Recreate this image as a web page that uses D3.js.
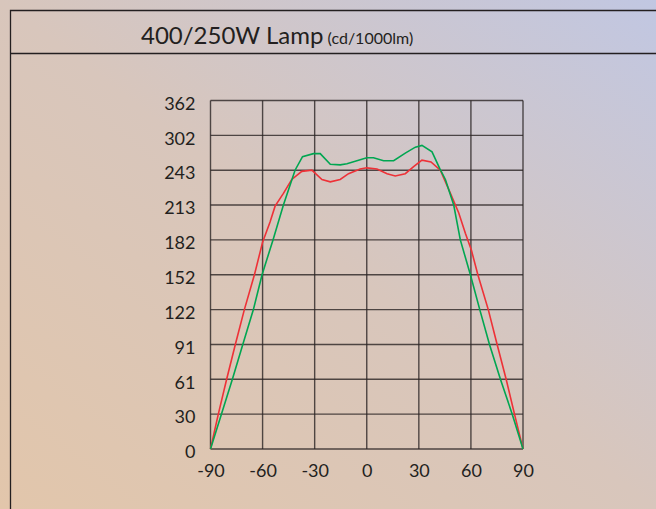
<!DOCTYPE html>
<html>
<head>
<meta charset="utf-8">
<script src="https://d3js.org/d3.v7.min.js"></script>
<style>
body { margin: 0; }
svg { display: block; }
text { font-family: Lato, "Open Sans", sans-serif; fill: #231f20; }
</style>
</head>
<body>
<svg width="656" height="509"></svg>
<script>
// angle ticks and the odd candela labels printed on the grid
var xTicks = [-90, -60, -30, 0, 30, 60, 90];
var yTicks = [0, 30, 61, 91, 122, 152, 182, 213, 243, 302, 362];

// red curve (400W)
var redAngle = [-90, -85.5, -80.7, -75.7, -70.5, -64.7, -60, -55.7, -52.8, -48, -43.2, -37.4, -31.6, -25.8, -21, -15.3, -10.5, -3.8, 0, 5.9, 11.7, 16.4, 22.2, 27, 31.8, 37, 42.4, 48.2, 53, 56.8, 60.3, 64, 70, 75.1, 80.3, 85.1, 90];
var redValue = [0, 30, 61, 91, 122, 152, 180, 198, 212, 223, 235, 242, 243, 235, 233, 235, 240, 245, 247, 245, 240, 238, 240, 249, 260, 257, 243, 223, 206, 188, 173, 152, 122, 91, 61, 30, 0];

// green curve (250W)
var greenAngle = [-90, -77.4, -71.4, -65.3, -60.3, -54, -48, -41.3, -37, -30.7, -26.8, -21, -15.3, -11.4, 0, 3.9, 9.7, 15.5, 22.2, 28, 31.8, 37.6, 42, 45.3, 50.1, 53.9, 59.7, 65.1, 70.7, 77, 83.8, 90];
var greenValue = [0, 61, 91, 122, 152, 182, 213, 243, 266, 271, 271, 253, 252, 254, 264, 264, 259, 259, 272, 282, 285, 274, 246, 235, 213, 182, 152, 122, 91, 61, 30, 0];

var svg = d3.select("svg");
var W = 656, H = 509;
var plotLeft = 210.5, plotRight = 523, plotTop = 100.5, plotBottom = 449;

// background wash
var defs = svg.append("defs");
var grad = defs.append("linearGradient").attr("id", "bg")
    .attr("x1", "0%").attr("y1", "100%").attr("x2", "100%").attr("y2", "0%");
grad.append("stop").attr("offset", "0%").attr("stop-color", "#e2c6ab");
grad.append("stop").attr("offset", "50%").attr("stop-color", "#d8c6bc");
grad.append("stop").attr("offset", "100%").attr("stop-color", "#c1c7e2");
svg.append("rect").attr("width", W).attr("height", H).attr("fill", "url(#bg)");

// frame
svg.append("path")
    .attr("d", "M" + W + ",10.5H10.5V" + H)
    .attr("fill", "none").attr("stroke", "#231f20").attr("stroke-width", 1.3);
svg.append("line")
    .attr("x1", 10.5).attr("x2", W).attr("y1", 53.5).attr("y2", 53.5)
    .attr("stroke", "#231f20").attr("stroke-width", 1.3);

// title
var title = svg.append("text").attr("x", 141).attr("y", 43.5);
title.append("tspan").style("font-size", "24px").text("400/250W Lamp");
title.append("tspan").style("font-size", "16px").text(" (cd/1000lm)");

// scales
var x = d3.scaleLinear().domain([-90, 90]).range([plotLeft, plotRight]);
var y = d3.scaleLinear()
    .domain(yTicks)
    .range(yTicks.map(function(d, i) { return plotBottom - i * (plotBottom - plotTop) / (yTicks.length - 1); }));

// grid
var grid = svg.append("g").attr("stroke", "#2b2424").attr("stroke-opacity", 0.8).attr("stroke-width", 1.4);
grid.selectAll(".v").data(xTicks).enter().append("line")
    .attr("x1", function(d) { return x(d); }).attr("x2", function(d) { return x(d); })
    .attr("y1", plotTop).attr("y2", plotBottom);
grid.selectAll(".h").data(yTicks).enter().append("line")
    .attr("x1", plotLeft).attr("x2", plotRight)
    .attr("y1", function(d) { return y(d); }).attr("y2", function(d) { return y(d); });

// axes (labels only)
var yAxis = svg.append("g")
    .attr("transform", "translate(" + (plotLeft - 15) + ",3)")
    .call(d3.axisLeft(y).tickValues(yTicks).tickSize(0).tickPadding(0));
yAxis.select(".domain").remove();
yAxis.selectAll("text").style("font-size", "18px")
    .style("font-family", "Lato, 'Open Sans', sans-serif").attr("fill", "#231f20");

var xAxis = svg.append("g")
    .attr("transform", "translate(0," + (plotBottom + 15) + ")")
    .call(d3.axisBottom(x).tickValues(xTicks).tickSize(0).tickPadding(0));
xAxis.select(".domain").remove();
xAxis.selectAll("text").style("font-size", "18px")
    .style("font-family", "Lato, 'Open Sans', sans-serif").attr("fill", "#231f20")
    .text(function(d) { return d < 0 ? "-" + Math.abs(d) : d; });

// curves
var line = d3.line()
    .x(function(d) { return x(d[0]); })
    .y(function(d) { return y(d[1]); });

svg.append("path")
    .datum(d3.zip(redAngle, redValue))
    .attr("fill", "none").attr("stroke", "#ee3137").attr("stroke-width", 1.6)
    .attr("d", line);

svg.append("path")
    .datum(d3.zip(greenAngle, greenValue))
    .attr("fill", "none").attr("stroke", "#00a651").attr("stroke-width", 1.6)
    .attr("d", line);
</script>
</body>
</html>
